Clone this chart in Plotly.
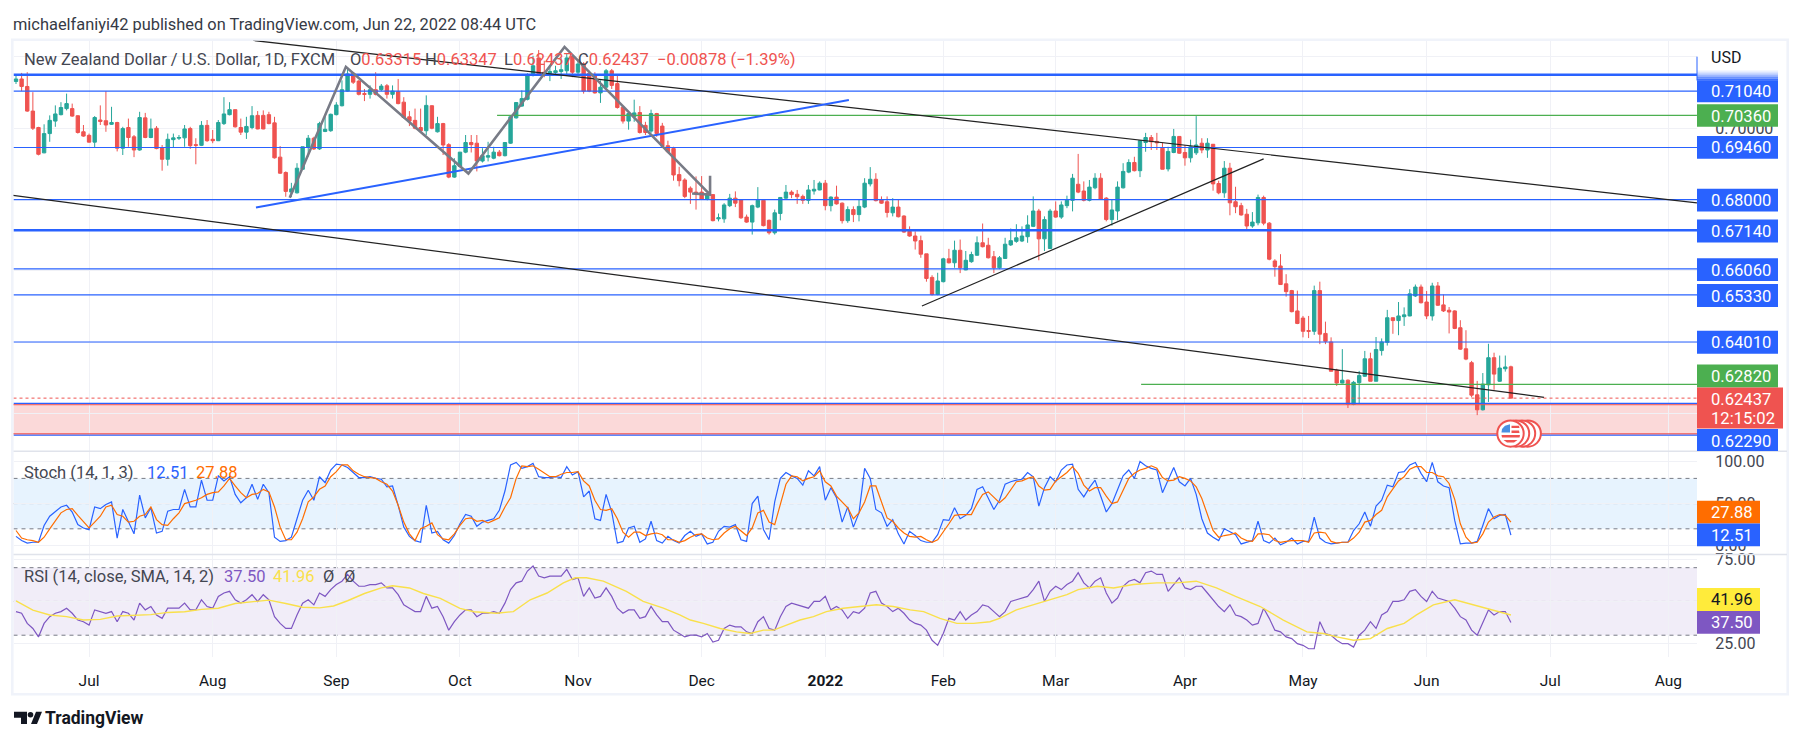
import plotly.graph_objects as go

W, H = 1801, 742
# ---------- candles, prices in pips (1e-4) ----------
opens = [7131,7138,7117,7048,7002,6931,6985,7020,7038,7055,7055,7035,6990,6980,6961,7023,7021,7011,7016,6944,7002,6976,6939,7029,6974,7000,6945,6913,6968,6972,6973,6999,6954,6952,7008,6969,6965,7013,7038,7052,7002,6989,7002,7036,7036,7038,7015,6919,6876,6821,6819,6885,6947,6972,6942,6991,6993,7038,7063,7104,7154,7132,7097,7095,7108,7108,7119,7095,7102,7073,7032,7022,7002,6993,7063,6990,7013,6954,6863,6893,6933,6960,6958,6908,6919,6916,6933,6923,6958,7029,7062,7081,7148,7197,7157,7154,7156,7159,7161,7201,7157,7180,7154,7150,7099,7115,7161,
 7125,7059,7020,7032,7044,7008,6992,7041,7006,6951,6943,6870,6855,6832,6821,6821,6801,6814,6746,6746,6783,6804,6799,6751,6737,6779,6798,6742,6707,6761,6804,6821,6815,6809,6798,6824,6827,6846,6783,6807,6790,6741,6772,6758,6779,6844,6857,6800,6794,6763,6779,6754,6711,6698,6685,6648,6582,6534,6570,6634,6623,6658,6603,6626,6644,6679,6672,6640,6609,6635,6673,6683,6684,6696,6725,6768,6690,6663,6768,6751,6783,6798,6843,6824,6798,6833,6860,6804,6744,6768,6833,6877,6904,6881,6960,6974,6963,6944,6886,6932,6977,6932,6917,
 6931,6958,6939,6955,6845,6819,6888,6794,6783,6759,6726,6735,6806,6734,6628,6614,6564,6545,6488,6468,6433,6431,6545,6425,6401,6322,6286,6294,6226,6287,6305,6354,6291,6377,6400,6469,6461,6472,6474,6530,6555,6513,6474,6558,6505,6490,6488,6441,6382,6343,6253,6211,6281,6357,6291,6326,6331.5]
highs = [7152,7155,7157,7101,7004,7011,7036,7064,7073,7097,7069,7036,7009,6985,7034,7064,7104,7060,7018,7004,7027,6981,7046,7043,7027,7006,6953,6985,6985,6981,7009,7004,6972,7020,7023,6995,7023,7087,7073,7052,7027,7032,7062,7048,7050,7046,7032,6950,6879,6847,6902,6948,6981,6976,7018,7036,7041,7073,7134,7171,7157,7135,7110,7120,7157,7124,7124,7120,7138,7087,7048,7055,7055,7092,7064,7032,7015,6958,6916,6933,6981,6981,6981,6944,6962,6948,6939,6960,7032,7073,7106,7154,7203,7219,7189,7175,7175,7198,7208,7208,7194,7185,7161,7157,7134,7166,7166,
 7152,7061,7045,7080,7062,7018,7052,7043,7015,6965,6948,6892,6860,6837,6865,6866,6818,6814,6761,6790,6816,6823,6801,6758,6786,6835,6801,6744,6772,6807,6841,6826,6827,6814,6841,6855,6851,6855,6809,6839,6792,6781,6781,6800,6860,6891,6874,6809,6809,6804,6801,6756,6725,6711,6699,6648,6588,6595,6637,6662,6685,6688,6656,6654,6697,6733,6693,6656,6642,6693,6719,6731,6725,6756,6809,6774,6753,6774,6795,6795,6811,6872,6928,6851,6855,6874,6874,6807,6800,6851,6902,6913,6920,6967,6987,6981,6987,6959,6948,6998,6978,6953,6968,
 7034,6972,6972,6945,6853,6908,6903,6836,6791,6774,6765,6814,6811,6737,6633,6647,6591,6547,6545,6474,6474,6559,6570,6458,6414,6326,6381,6296,6292,6320,6376,6371,6415,6411,6491,6469,6513,6498,6549,6562,6562,6544,6567,6569,6534,6499,6490,6462,6434,6348,6292,6314,6396,6371,6363,6363,6334.7]
lows = [7124,7104,7046,6995,6924,6930,6962,7004,7036,7050,7032,6985,6976,6960,6947,7009,6990,7009,6935,6925,6948,6919,6937,6972,6972,6941,6881,6895,6947,6967,6948,6942,6899,6950,6962,6958,6964,7009,7036,7002,6981,6970,6997,6997,6997,7011,6915,6872,6808,6807,6817,6884,6921,6939,6939,6989,6990,7036,7061,7102,7124,7092,7076,7083,7092,7104,7083,7083,7067,7027,7006,6997,6990,6981,6997,6988,6925,6860,6861,6891,6930,6932,6879,6904,6907,6913,6921,6921,6956,7027,7060,7078,7145,7148,7143,7132,7148,7138,7148,7143,7148,7097,7101,7097,7071,7110,7110,
 7055,7013,6996,7018,6985,6981,6987,6976,6946,6930,6853,6837,6804,6788,6772,6800,6798,6739,6739,6735,6779,6779,6746,6735,6702,6776,6725,6702,6702,6742,6802,6804,6788,6788,6788,6814,6826,6770,6767,6786,6733,6735,6737,6739,6776,6837,6795,6788,6750,6753,6750,6707,6696,6660,6637,6570,6531,6532,6568,6621,6609,6594,6602,6623,6643,6666,6635,6594,6605,6634,6670,6679,6681,6679,6723,6630,6656,6662,6749,6746,6776,6767,6818,6795,6795,6829,6800,6739,6727,6742,6831,6874,6879,6863,6934,6939,6939,6885,6879,6930,6928,6895,6904,
 6925,6930,6917,6825,6815,6805,6756,6762,6755,6716,6721,6728,6728,6630,6584,6561,6528,6484,6451,6414,6412,6421,6395,6395,6319,6278,6285,6216,6224,6227,6303,6291,6291,6363,6391,6424,6420,6446,6473,6527,6509,6465,6461,6502,6485,6425,6437,6379,6350,6246,6196,6209,6233,6267,6289,6318,6243.7]
closes = [7138,7117,7048,7000,6927,6985,7022,7040,7058,7069,7034,6988,6978,6961,7030,7019,7009,7016,6944,6999,6974,6939,7030,6974,6998,6943,6913,6969,6973,6974,6998,6951,6952,7008,6965,6965,7016,7040,7052,7004,6989,7005,7035,6998,6998,7013,6917,6874,6823,6830,6888,6948,6972,6942,7013,6997,7039,7065,7108,7152,7129,7095,7095,7108,7095,7118,7095,7104,7069,7030,7020,7000,6993,7064,7000,7013,6953,6863,6895,6933,6960,6954,6908,6923,6923,6933,6923,6960,7032,7072,7083,7148,7175,7150,7150,7159,7161,7164,7197,7157,7180,7104,7104,7099,7115,7161,7120,
 7058,7020,7041,7043,6988,6988,7041,6985,6950,6934,6869,6853,6809,6821,6818,6801,6814,6741,6749,6785,6804,6790,6749,6737,6783,6798,6727,6707,6763,6806,6821,6814,6808,6798,6827,6829,6846,6783,6807,6788,6741,6772,6758,6781,6846,6857,6797,6790,6764,6779,6752,6709,6698,6684,6647,6579,6534,6572,6634,6623,6658,6609,6630,6646,6679,6668,6637,6609,6637,6675,6685,6693,6698,6729,6768,6690,6744,6768,6751,6785,6798,6860,6821,6798,6835,6860,6801,6744,6771,6835,6879,6904,6881,6965,6974,6962,6959,6885,6935,6977,6930,6917,6948,
 6953,6939,6958,6844,6819,6888,6791,6780,6757,6726,6737,6806,6734,6633,6612,6562,6542,6486,6453,6431,6431,6545,6423,6403,6319,6286,6294,6226,6288,6307,6354,6291,6380,6401,6469,6461,6474,6477,6536,6555,6511,6474,6558,6504,6488,6485,6439,6381,6353,6252,6211,6283,6357,6311,6328,6331,6243.7]
PIP = 1e-4

# ---------- oscillators ----------
stoch_k = [11,6,3,4,4,24,35,41,46,48,40,25,21,19,46,44,49,52,9,43,29,14,60,33,45,15,17,41,43,43,67,46,46,78,54,54,83,77,82,61,51,57,73,55,73,63,10,5,6,10,32,54,66,54,82,75,90,97,96,93,87,81,81,82,80,79,70,71,48,22,11,6,4,48,15,17,7,3,12,26,37,35,23,28,30,32,42,65,
 96,99,92,94,98,82,81,81,82,81,94,84,88,58,65,32,30,61,40,3,5,21,23,4,8,29,6,3,11,6,3,12,17,11,14,2,4,17,23,22,25,7,5,50,59,19,7,52,80,87,83,80,72,89,83,94,54,69,57,28,46,22,39,92,80,43,39,23,31,14,2,17,12,6,4,4,13,31,30,
 45,32,36,44,67,70,56,43,54,73,76,78,79,87,82,47,69,82,76,90,96,97,67,58,69,78,59,40,50,66,83,90,80,100,95,92,90,63,79,93,76,71,80,61,32,15,10,6,20,16,13,2,4,6,29,6,3,9,1,4,9,2,5,5,34,9,4,2,3,4,4,18,26,40,23,47,54,72,70,87,88,96,99,86,76,99,76,71,69,
 30,2,3,3,5,24,44,32,36,37,12.51]
stoch_d = [18,9,7,6,4,10,20,30,39,43,44,36,28,21,28,35,46,48,37,35,28,29,35,37,46,31,25,24,32,39,50,52,54,57,61,63,64,71,80,71,63,57,61,62,67,64,46,22,7,7,16,32,52,58,67,71,82,88,96,96,89,85,82,81,80,76,73,65,48,28,14,6,20,23,27,13,8,7,14,24,32,33,29,30,27,30,33,46,
 57,80,95,94,95,91,86,82,82,85,87,87,88,77,71,54,43,42,44,32,16,10,16,16,12,14,15,13,7,7,4,6,10,13,14,9,7,8,15,20,23,18,12,21,39,42,28,25,48,73,83,82,77,80,82,89,76,71,59,52,45,32,39,52,71,71,52,33,29,21,15,11,10,11,7,4,7,16,26,
 36,37,37,37,50,61,64,57,51,57,67,76,77,80,82,71,66,67,77,82,87,94,86,72,65,69,69,59,50,52,67,80,86,90,92,95,92,81,77,78,82,80,77,70,56,36,18,10,12,13,15,9,6,5,14,14,13,6,4,5,6,6,6,4,15,16,15,5,3,4,4,9,16,28,30,37,42,58,67,77,82,91,94,94,87,87,83,82,74,
 55,26,10,3,4,14,28,34,37,36,27.88]
rsi = [44,43,37,34,29,37,41,43,44,46,43,39,38,36,45,44,43,44,38,44,43,39,49,45,47,42,40,46,46,46,49,45,45,51,47,46,53,55,56,51,49,51,54,50,54,51,41,37,34,34,42,49,51,48,55,53,57,60,62,66,62,59,59,60,60,61,58,58,54,48,46,44,44,53,46,47,41,33,38,42,45,45,41,43,43,44,43,
 49,57,61,62,68,71,65,64,65,65,65,69,63,64,53,58,52,53,58,53,46,43,45,45,40,41,47,42,38,38,33,31,29,30,30,29,31,26,27,34,36,35,35,32,31,38,41,34,33,41,47,49,48,47,46,50,50,53,45,47,45,40,44,43,46,55,56,49,47,44,46,43,39,37,36,33,27,24,31,40,39,44,39,42,44,48,47,44,41,44,
 50,51,52,53,57,62,50,56,59,57,60,62,67,61,58,62,64,55,49,52,59,62,63,61,67,68,66,66,56,60,64,58,57,59,59,55,51,47,44,48,42,41,39,36,37,46,40,33,32,29,28,25,24,22,22,38,31,30,27,25,25,23,30,33,38,34,42,44,50,50,51,56,57,53,50,56,52,51,50,46,41,39,33,30,37,45,42,44,44,37.5]
rsi_ma_bars = [0,3,6,9,12,15,18,21,24,27,30,33,36,39,42,45,48,51,54,56.5,59,62,65,67,70,72.5,75.5,79,81.5,85.5,88.5,91.5,94.5,97.4,99.5,101.5,104.5,108.6,111.6,115.2,118.1,120,122.3,125.3,128.2,130.6,133,134.8,137.1,139.5,141.9,144.2,147.2,150.2,153.1,156.1,159.1,161.5,164.4,167.4,170.4,173.3,175,178,181,184,187,189,192.4,195.3,198.8,203,206.5,210,213.6,217,221.4,225.5,229.7,232.6,235,238,241,244,247,249.2,252.2,256,259.3,262.3,266]
rsi_ma = [50.4,44.9,42,41,39,39.4,41.4,41.8,42.2,43.5,43.9,45.3,46,48.8,49.8,50.8,48.8,46.6,46.2,47.3,50.4,54.7,58,59.3,58,54.7,51.8,45.9,43.9,43,44,51,55,61,64,64,62,56,50,46,42,39,37,34,32,31,33,33,36,39,41,44,46,47,48,47,45,44,40,37,37,38,40,45,48,51,54,57,59,58,60,61,61,62,58,53,47,39,32,31,29,27,28,34,37,42,48,51,48,45,41.96]

# ---------- drawn levels and trend lines ----------
level_prices = [0.7104,0.6946,0.68,0.6606,0.6533,0.6401]
thick_levels = [0.7150,0.6714]
zone_top, zone_bottom = 0.6229, 0.6140
last_price = 0.62437
green_a = ([85.6,299.1],[0.7036,0.7036])
green_b = ([200.2,299.1],[0.6282,0.6282])
upper_trend = ([42.2,299.1],[0.7246,0.6791])
lower_trend = ([-0.53,271.9],[0.6812,0.6246])
rising_trend = ([161.2,222],[0.6502,0.6914])
blue_trend = ([42.7,148.2],[0.6778,0.7079])
zig_bars = [48.7,58.7,80.5,97.6,123.5,123.5,123.5,120.3]
zig_prices = [0.6805,0.7172,0.6873,0.7228,0.6814,0.6867,0.6814,0.6817]

month_bars = [13,35,57,79,100,122,144,165,185,208,229,251,273,294]
month_text = ["Jul","Aug","Sep","Oct","Nov","Dec","<b>2022</b>","Feb","Mar","Apr","May","Jun","Jul","Aug"]

assert len(opens)==len(highs)==len(lows)==len(closes)==267, (len(opens),len(highs),len(lows),len(closes))
assert len(stoch_k)==len(stoch_d)==len(rsi)==267, (len(stoch_k),len(stoch_d),len(rsi))
assert len(rsi_ma)==len(rsi_ma_bars), (len(rsi_ma),len(rsi_ma_bars))

BLUE, GREEN, RED, TXT = "#2962ff", "#4caf50", "#ef5350", "#131722"
UP, DOWN = "#26a69a", "#ef5350"
GRID = "#f0f1f6"
FONT = "Roboto"
PL, PR = 13.5, 1697
X0, DX = 16, 5.62
def fx(x): return x/W
def fy(y): return 1-y/H
bars = list(range(len(closes)))
xrange = [(PL-X0)/DX, (PR-X0)/DX]

fig = go.Figure()
fig.add_trace(go.Candlestick(x=bars,
    open=[v*PIP for v in opens], high=[v*PIP for v in highs],
    low=[v*PIP for v in lows], close=[v*PIP for v in closes],
    increasing=dict(line=dict(color=UP,width=1),fillcolor=UP),
    decreasing=dict(line=dict(color=DOWN,width=1),fillcolor=DOWN),
    whiskerwidth=0, hoverinfo="skip", showlegend=False, xaxis="x", yaxis="y"))

def line(xs, ys, color, width, dash="solid", yaxis="y"):
    fig.add_trace(go.Scatter(x=xs, y=ys, mode="lines", hoverinfo="skip", showlegend=False,
                             line=dict(color=color,width=width,dash=dash), xaxis="x", yaxis=yaxis))

for p in level_prices: line(xrange,[p,p],BLUE,1.2)
for p in thick_levels: line(xrange,[p,p],BLUE,2.6)
line(xrange,[zone_top,zone_top],BLUE,1.2)
line(xrange,[zone_bottom,zone_bottom],BLUE,1.2)
line(*green_a,GREEN,1.2); line(*green_b,GREEN,1.2)
line(*upper_trend,"#222222",1.2); line(*lower_trend,"#222222",1.2); line(*rising_trend,"#222222",1.2)
line(*blue_trend,BLUE,2)
line(zig_bars,zig_prices,"#787b86",2.6)
line(xrange,[last_price,last_price],RED,1,"dot")

line(bars,stoch_k,BLUE,1.2,yaxis="y2")
line(bars,stoch_d,"#ff6d00",1.2,yaxis="y2")
line(bars,rsi,"#7e57c2",1.2,yaxis="y3")
line(rsi_ma_bars,rsi_ma,"#f9e04b",1.4,yaxis="y3")

# ---------- shapes ----------
shapes = []
def rect(x0,y0,x1,y1,color,layer="above"):
    shapes.append(dict(type="rect",xref="paper",yref="paper",x0=fx(x0),x1=fx(x1),y0=fy(y0),y1=fy(y1),
                       fillcolor=color,line=dict(width=0),layer=layer))
def hl(x0,x1,y,color,width,dash="solid",layer="above"):
    shapes.append(dict(type="line",xref="paper",yref="paper",x0=fx(x0),x1=fx(x1),y0=fy(y),y1=fy(y),
                       line=dict(color=color,width=width,dash=dash),layer=layer))
def circ(cx,cy,r,fill,lc=None,lw=0):
    shapes.append(dict(type="circle",xref="paper",yref="paper",x0=fx(cx-r),x1=fx(cx+r),y0=fy(cy-r),y1=fy(cy+r),
                       fillcolor=fill,line=dict(color=lc or fill,width=lw),layer="above"))
def poly(pts,color):
    path="M"+" L".join(f"{fx(a):.6f},{fy(b):.6f}" for a,b in pts)+" Z"
    shapes.append(dict(type="path",xref="paper",yref="paper",path=path,fillcolor=color,line=dict(width=0),layer="above"))

# zone and oscillator bands, referenced to their axes
shapes.append(dict(type="rect",xref="paper",yref="y",x0=fx(PL),x1=fx(PR),y0=zone_bottom,y1=zone_top,
                   fillcolor="rgba(239,83,80,0.22)",line=dict(width=0),layer="below"))
for p in (zone_top-0.00038, zone_bottom+0.00038):
    shapes.append(dict(type="line",xref="paper",yref="y",x0=fx(PL),x1=fx(PR),y0=p,y1=p,
                       line=dict(color=RED,width=1),layer="above"))
shapes.append(dict(type="rect",xref="paper",yref="y2",x0=fx(PL),x1=fx(PR),y0=20,y1=80,
                   fillcolor="rgba(33,150,243,0.11)",line=dict(width=0),layer="below"))
shapes.append(dict(type="rect",xref="paper",yref="y3",x0=fx(PL),x1=fx(PR),y0=30,y1=70,
                   fillcolor="rgba(126,87,194,0.11)",line=dict(width=0),layer="below"))
for ax,vals in (("y2",(80,50,20)),("y3",(70,50,30))):
    for v in vals:
        c = "rgba(120,123,134,0.7)" if v==50 else "#787b86"
        shapes.append(dict(type="line",xref="paper",yref=ax,x0=fx(PL),x1=fx(PR),y0=v,y1=v,
                           line=dict(color=c,width=1,dash="4px,4px"),layer="below"))
# pane separators and frame
hl(PL,1787,450.3,"#e0e3eb",1.6)
hl(PL,1787,554.3,"#e0e3eb",1.6)
shapes.append(dict(type="rect",xref="paper",yref="paper",x0=fx(12.3),x1=fx(1787.7),y0=fy(36),y1=fy(695),
                   fillcolor="rgba(0,0,0,0)",line=dict(color="#f0f3fa",width=2.6),layer="below"))

# price scale boxes
annots = []
def text(x,y,s,color=TXT,size=16,anchor="left",bold=False):
    annots.append(dict(x=fx(x),y=fy(y),xref="paper",yref="paper",text=f"<b>{s}</b>" if bold else s,showarrow=False,
                       xanchor=anchor,yanchor="middle",font=dict(family=FONT,size=size,color=color),
                       borderpad=0,borderwidth=0))
LBL = 16.6
scale_boxes = [("0.71040",76.7,99,BLUE),("0.70360",101,123.7,GREEN),("0.69460",133,155.7,BLUE),("0.68000",186,209,BLUE),
               ("0.67140",217,240,BLUE),("0.66060",256,279,BLUE),("0.65330",282,305,BLUE),("0.64010",329,352,BLUE),
               ("0.62820",363,386,GREEN)]
for i,a in enumerate((0.1,0.25,0.45,0.7,0.9)):
    rect(1697,67+i*2,1778,69+i*2,f"rgba(41,98,255,{a})")
shapes.append(dict(type="line",xref="paper",yref="paper",x0=fx(1697),x1=fx(1697),y0=fy(53),y1=fy(77),
                   line=dict(color=BLUE,width=1),layer="above"))
for s,t,b,c in scale_boxes:
    rect(1697,t,1778,b,c)
    text(1711,(t+b)/2+0.5,s,"white",LBL)
rect(1697,428,1778,450,BLUE); text(1711,440.5,"0.62290","white",LBL)
rect(1697,386,1783,427.5,RED); text(1711,398.5,"0.62437","white",LBL); text(1711,417.8,"12:15:02","white",LBL)
text(1711,54,"USD",TXT,16)
rect(1697,500,1760,523,"#ff6d00"); text(1711,512,"27.88","white",LBL)
rect(1697,523,1760,546,BLUE); text(1711,535,"12.51","white",LBL)
rect(1697,588,1760,611,"#ffeb3b"); text(1711,600,"41.96",TXT,LBL)
rect(1697,611,1760,634,"#7e57c2"); text(1711,623,"37.50","white",LBL)

# legends
g = "#434651"
LEG = 16.5
def val(label,value): return f'{label}<span style="color:{RED}">{value}</span>'
text(24,56,"New Zealand Dollar / U.S. Dollar, 1D, FXCM",g,LEG)
text(350,56,val("O","0.63315"),g,LEG)
text(425,56,val("H","0.63347"),g,LEG)
text(504,56,val("L","0.62437"),g,LEG)
text(578,56,val("C","0.62437"),g,LEG)
text(657,56,"\u22120.00878 (\u22121.39%)",RED,LEG)
text(24,472,"Stoch (14, 1, 3)",g,LEG)
text(147,472,"12.51",BLUE,LEG); text(196,472,"27.88","#ff6d00",LEG)
text(24,576,"RSI (14, close, SMA, 14, 2)",g,LEG)
text(224,576,"37.50","#7e57c2",LEG); text(273,576,"41.96","#f9e04b",LEG)
text(323,576,"\u00d8",g,LEG); text(344,576,"\u00d8",g,LEG)
text(13,20.5,"michaelfaniyi42 published on TradingView.com, Jun 22, 2022 08:44 UTC","#363a45",16.4)
text(45,718.5,"TradingView","#131722",17.5,bold=True)

# logo
poly([(14,712.5),(27,712.5),(27,725),(21,725),(21,718.5),(14,718.5)],"#131722")
circ(30.5,715.5,2.8,"#131722")
poly([(31,725),(36,712.5),(42,712.5),(37,725)],"#131722")

# event badge
for cx in (1527.7,1522,1516):
    circ(cx,432.5,13.2,"white",RED,2)
circ(1510.5,432.5,13.2,"white",RED,2)
poly([(1501.5,431.5),(1510,431.5),(1510,423),(1505,424.5),(1502,428)],"#4a90e2")
for yy in (424.5,429.5):
    poly([(1511.5,yy),(1519,yy),(1519.5,yy+2.5),(1511.5,yy+2.5)],RED)
poly([(1501.5,434),(1520,434),(1519.5,436.5),(1502,436.5)],RED)
poly([(1503.5,439),(1517.5,439),(1514,441.5),(1507,441.5)],RED)

def dom(y_top,y_bot): return [1-y_bot/H,1-y_top/H]
def price_at(y): return 0.7104-(y-87.7)/3593
def stoch_at(y): return (545.3-y)/0.846
def rsi_at(y): return 25+(644-y)/1.7
tickfont = dict(family=FONT,size=16,color="#434651")

fig.update_layout(
    width=W,height=H,margin=dict(l=0,r=0,t=0,b=0,pad=0),autosize=False,boxgap=0.14,
    paper_bgcolor="white",plot_bgcolor="rgba(0,0,0,0)",showlegend=False,hovermode=False,
    font=dict(family=FONT),shapes=shapes,annotations=annots,
    xaxis=dict(domain=[fx(PL),fx(PR)],range=xrange,anchor="y3",rangeslider=dict(visible=False),
               tickmode="array",tickvals=month_bars,ticktext=month_text,showgrid=True,gridcolor=GRID,gridwidth=1,
               zeroline=False,showline=False,ticks="outside",ticklen=9,tickcolor="rgba(0,0,0,0)",
               tickfont=dict(family=FONT,size=15.5,color="#131722"),tickangle=0),
    yaxis=dict(domain=dom(37,450),range=[price_at(450),price_at(37)],side="right",anchor="x",
               tickmode="array",tickvals=[0.62,0.64,0.66,0.68,0.70,0.72],ticktext=["","","","","0.70000",""],
               showgrid=True,gridcolor=GRID,zeroline=False,showline=False,ticks="outside",ticklen=14,
               tickcolor="rgba(0,0,0,0)",tickfont=tickfont),
    yaxis2=dict(domain=dom(450,554),range=[stoch_at(554),stoch_at(450)],side="right",anchor="x",
               tickmode="array",tickvals=[0,50,100],ticktext=["0.00","50.00","100.00"],
               showgrid=True,gridcolor=GRID,zeroline=False,showline=False,ticks="outside",ticklen=14,
               tickcolor="rgba(0,0,0,0)",tickfont=tickfont),
    yaxis3=dict(domain=dom(554,657.7),range=[rsi_at(657.7),rsi_at(554)],side="right",anchor="x",
               tickmode="array",tickvals=[25,50,75],ticktext=["25.00","50.00","75.00"],
               showgrid=True,gridcolor=GRID,zeroline=False,showline=False,ticks="outside",ticklen=14,
               tickcolor="rgba(0,0,0,0)",tickfont=tickfont),
)
fig.write_html("out.html",config=dict(displayModeBar=False,responsive=False),
               post_script="document.body.style.margin='0';document.documentElement.style.overflow='hidden';")
